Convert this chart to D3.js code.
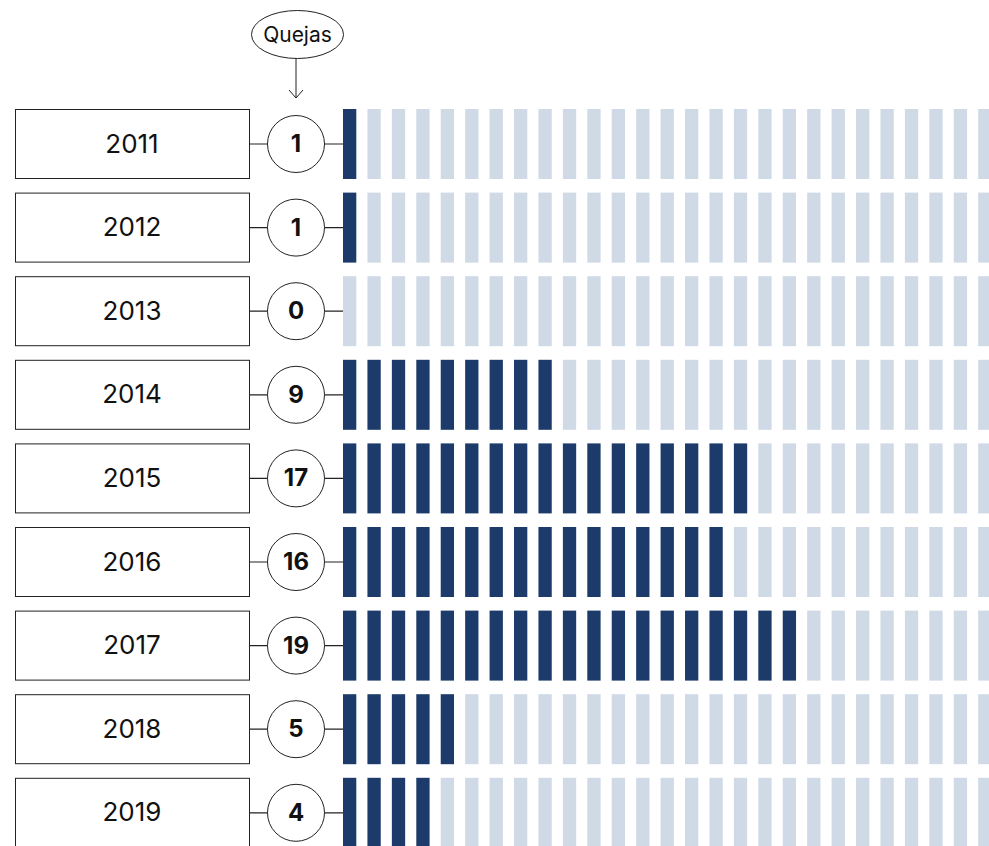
<!DOCTYPE html>
<html>
<head>
<meta charset="utf-8">
<script src="https://cdn.jsdelivr.net/npm/d3@7"></script>
<style>
  html, body { margin: 0; padding: 0; background: #fff; }
  svg { display: block; }
  text { font-family: Inter, "Noto Sans", sans-serif; }
</style>
</head>
<body>
<svg id="chart" width="989" height="846"></svg>
<script>
// Complaints per year
const years = ["2011", "2012", "2013", "2014", "2015", "2016", "2017", "2018", "2019"];
const quejas = [1, 1, 0, 9, 17, 16, 19, 5, 4];
const headerLabel = "Quejas";
const slotCount = 30;

const svg = d3.select("#chart");

const navy = "#1c3b6a";
const pale = "#cfdae6";
const ink = "#222";

// Rows: one per year (row pitch 83.6, row height 70)
const rowStep = 83.6, rowH = 70;
const y = d3.scaleBand()
  .domain(years)
  .range([109, 109 + (years.length - 1) * rowStep + rowH])
  .paddingInner((rowStep - rowH) / rowStep)
  .paddingOuter(0);

// Bar slots: one per complaint
const slotStep = 24.43, slotW = 13.3;
const x = d3.scaleBand()
  .domain(d3.range(slotCount))
  .range([343, 343 + (slotCount - 1) * slotStep + slotW])
  .paddingInner((slotStep - slotW) / slotStep)
  .paddingOuter(0);

const boxX0 = 15, boxX1 = 249;
const cx = 296, r = 28.5;

// Header bubble with arrow
const head = svg.append("g");
head.append("ellipse")
  .attr("cx", 297.5).attr("cy", 34.5).attr("rx", 46).attr("ry", 24)
  .attr("fill", "#fff").attr("stroke", ink).attr("stroke-width", 1);
head.append("text")
  .attr("x", 297.5).attr("y", 34)
  .attr("text-anchor", "middle").attr("dominant-baseline", "central")
  .attr("font-size", 21).attr("fill", "#111")
  .text(headerLabel);
head.append("line")
  .attr("x1", cx).attr("x2", cx).attr("y1", 58.5).attr("y2", 98)
  .attr("stroke", ink).attr("stroke-width", 1);
head.append("path")
  .attr("d", `M${cx - 7},${90} L${cx},${98} L${cx + 7},${90}`)
  .attr("fill", "none").attr("stroke", ink).attr("stroke-width", 1);

const rows = svg.selectAll("g.row")
  .data(years.map((yr, i) => ({ yr, v: quejas[i] })))
  .join("g")
  .attr("class", "row")
  .attr("transform", d => `translate(0,${y(d.yr)})`);

const bh = y.bandwidth();

// Slots (pale) then filled complaints (navy)
rows.each(function (d) {
  const g = d3.select(this);
  g.selectAll("rect.slot")
    .data(d3.range(slotCount))
    .join("rect")
    .attr("class", "slot")
    .attr("x", i => x(i))
    .attr("y", 0)
    .attr("width", x.bandwidth())
    .attr("height", bh)
    .attr("fill", i => i < d.v ? navy : pale);
});

// Connector line
rows.append("line")
  .attr("x1", boxX1).attr("x2", 343)
  .attr("y1", bh / 2).attr("y2", bh / 2)
  .attr("stroke", ink).attr("stroke-width", 1.2);

// Year box
rows.append("rect")
  .attr("x", boxX0 + 0.5).attr("y", 0.5)
  .attr("width", boxX1 - boxX0).attr("height", bh - 1)
  .attr("fill", "#fff").attr("stroke", ink).attr("stroke-width", 1);

rows.append("text")
  .attr("x", (boxX0 + boxX1) / 2).attr("y", bh / 2 - 1)
  .attr("text-anchor", "middle").attr("dominant-baseline", "central")
  .attr("font-size", 26).attr("fill", "#111")
  .text(d => d.yr);

// Value circle
rows.append("circle")
  .attr("cx", cx).attr("cy", bh / 2).attr("r", r)
  .attr("fill", "#fff").attr("stroke", ink).attr("stroke-width", 1);

rows.append("text")
  .attr("x", cx).attr("y", bh / 2 - 0.5)
  .attr("text-anchor", "middle").attr("dominant-baseline", "central")
  .attr("font-size", 24).attr("font-weight", 700).attr("fill", "#111")
  .text(d => d.v);
</script>
</body>
</html>
